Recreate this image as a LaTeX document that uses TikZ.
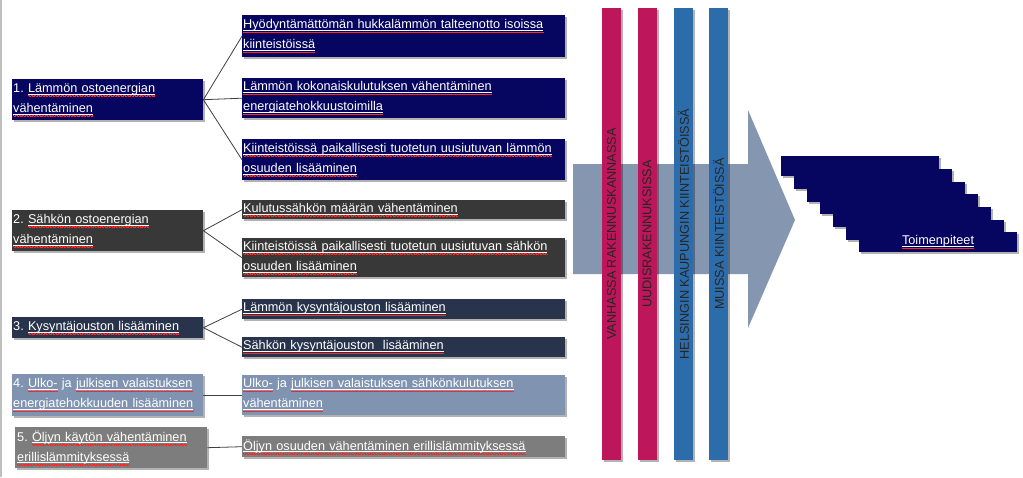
\documentclass[tikz,border=0pt]{standalone}
\usepackage{fontspec}
\setmainfont{Liberation Sans}
\usetikzlibrary{shadows}
\newsavebox\sqbox
\newcommand\wavepiece{\hbox{\rule[-3.5pt]{0.7pt}{0.35pt}\rule[-4.0pt]{0.7pt}{0.35pt}}}
\newcommand\sq[1]{\leavevmode\sbox\sqbox{#1}\rlap{\textcolor{white}{\rule[-1.9pt]{\wd\sqbox}{0.45pt}}}\rlap{\textcolor{red!85}{\hbox to \wd\sqbox{\xleaders\wavepiece\hfill}}}\usebox\sqbox}
\definecolor{navyc}{RGB}{6,6,96}
\definecolor{dgrayc}{RGB}{56,56,56}
\definecolor{slatec}{RGB}{40,52,76}
\definecolor{lbluec}{RGB}{128,148,178}
\definecolor{grayc}{RGB}{125,125,125}
\definecolor{crimc}{RGB}{190,22,90}
\definecolor{bbluec}{RGB}{45,108,170}
\definecolor{arrowc}{RGB}{132,150,176}
\begin{document}
\begin{tikzpicture}[x=1pt,y=-1pt,
  box/.style={anchor=north west, inner xsep=1pt, inner ysep=0pt, align=left, text=white,
    font=\fontsize{12.7}{20}\selectfont,
    drop shadow={shadow xshift=2pt, shadow yshift=-2pt, opacity=0.3, fill=black}},
  lbox/.style={box, minimum width=191pt, text width=189pt},
  rbox/.style={box, minimum width=323pt, text width=321pt},
  conn/.style={draw=black!75, line width=0.8pt},
  bar/.style={minimum width=19pt, minimum height=452pt, inner sep=0pt,
    drop shadow={shadow xshift=2pt, shadow yshift=-2pt, opacity=0.3, fill=black}},
  bartext/.style={rotate=90, text=black!85, font=\fontsize{12.7}{15}\selectfont, inner sep=0pt},
  stk/.style={fill=navyc, minimum width=158pt, minimum height=20pt, inner sep=0pt, anchor=north west,
    drop shadow={shadow xshift=2pt, shadow yshift=-2pt, opacity=0.3, fill=black}}
]
\useasboundingbox (0,0) rectangle (1023,477);
\fill[white] (0,0) rectangle (1023,477);
\draw[black!25, line width=2pt] (1,0) -- (1,477);

% left boxes
\node[lbox, fill=navyc, minimum height=41pt] (l1) at (12,79) {1.\ \sq{Lämmön ostoenergian}\\\sq{vähentäminen}};
\node[lbox, fill=dgrayc, minimum height=41pt] (l2) at (12,210) {2.\ \sq{Sähkön ostoenergian}\\\sq{vähentäminen}};
\node[lbox, fill=slatec, minimum height=21pt] (l3) at (12,317) {3.\ \sq{Kysyntäjouston lisääminen}};
\node[lbox, fill=lbluec, minimum height=42pt] (l4) at (12,374) {4.\ \sq{Ulko-} ja \sq{julkisen valaistuksen}\\\sq{energiatehokkuuden lisääminen}};
\node[box, fill=grayc, minimum width=192pt, text width=188pt, inner xsep=2pt, minimum height=41pt] (l5) at (15,427) {5.\ \sq{Öljyn käytön vähentäminen}\\\sq{erillislämmityksessä}};

% right boxes
\node[rbox, fill=navyc, minimum height=42pt] (r1) at (242,15) {\sq{Hyödyntämättömän hukkalämmön talteenotto isoissa}\\\sq{kiinteistöissä}};
\node[rbox, fill=navyc, minimum height=40pt] (r2) at (242,78) {\sq{Lämmön kokonaiskulutuksen vähentäminen}\\\sq{energiatehokkuustoimilla}};
\node[rbox, fill=navyc, minimum height=41pt] (r3) at (242,139) {\sq{Kiinteistöissä paikallisesti tuotetun uusiutuvan lämmön}\\\sq{osuuden lisääminen}};
\node[rbox, fill=dgrayc, minimum height=19pt] (r4) at (242,200) {\sq{Kulutussähkön määrän vähentäminen}};
\node[rbox, fill=dgrayc, minimum height=39pt] (r5) at (242,238) {\sq{Kiinteistöissä paikallisesti tuotetun uusiutuvan sähkön}\\\sq{osuuden lisääminen}};
\node[rbox, fill=slatec, minimum height=20pt] (r6) at (242,299) {\sq{Lämmön kysyntäjouston lisääminen}};
\node[rbox, fill=slatec, minimum height=20pt] (r7) at (242,337) {\sq{Sähkön kysyntäjouston\ \ lisääminen}};
\node[rbox, fill=lbluec, minimum height=40pt] (r8) at (242,375) {\sq{Ulko-} ja \sq{julkisen valaistuksen sähkönkulutuksen}\\\sq{vähentäminen}};
\node[rbox, fill=grayc, minimum height=21pt] (r9) at (242,436) {\sq{Öljyn osuuden vähentäminen erillislämmityksessä}};

% connectors
\draw[conn] (l1.east) -- (r1.west);
\draw[conn] (l1.east) -- (r2.west);
\draw[conn] (l1.east) -- (r3.west);
\draw[conn] (l2.east) -- (r4.west);
\draw[conn] (l2.east) -- (r5.west);
\draw[conn] (l3.east) -- (r6.west);
\draw[conn] (l3.east) -- (r7.west);
\draw[conn] (l4.east) -- (r8.west);
\draw[conn] (l5.east) -- (r9.west);

% big arrow
\fill[arrowc] (573,164) -- (748,164) -- (748,110) -- (795,220) -- (748,328) -- (748,274) -- (573,274) -- cycle;

% vertical bars
\node[bar, fill=crimc] (b1) at (611.5,234) {};
\node[bar, fill=crimc] (b2) at (647,234) {};
\node[bar, fill=bbluec] (b3) at (683.5,234) {};
\node[bar, fill=bbluec] (b4) at (718.5,234) {};
\node[bartext] (t1) at (b1) {VANHASSA RAKENNUSKANNASSA};
\node[bartext] (t2) at (b2) {UUDISRAKENNUKSISSA};
\node[bartext] (t3) at (b3) {HELSINGIN KAUPUNGIN KIINTEISTÖISSÄ};
\node[bartext] (t4) at (b4) {MUISSA KIINTEISTÖISSÄ};

% stacked boxes
\foreach \i in {0,...,6} {
  \node[stk] (s\i) at ({781+12.97*\i},{156+12.67*\i}) {};
}
\node[text=white, font=\fontsize{12.7}{15}\selectfont, inner sep=0pt] (tp) at (s6) {\sq{Toimenpiteet}};
\end{tikzpicture}
\end{document}
